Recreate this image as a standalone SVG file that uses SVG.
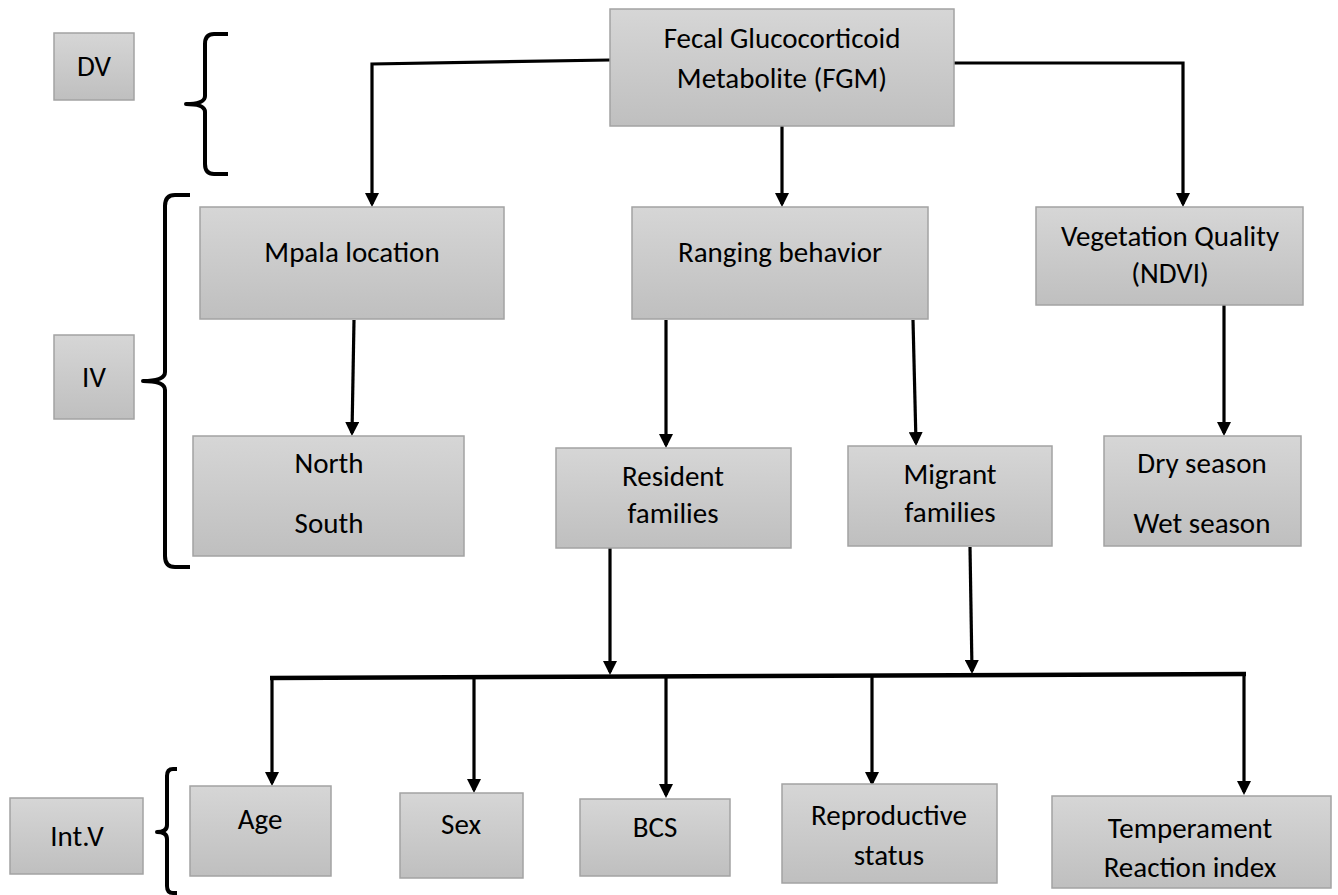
<svg xmlns="http://www.w3.org/2000/svg" width="1338" height="895" viewBox="0 0 1338 895">
<defs>
<linearGradient id="g" x1="0" y1="0" x2="0" y2="1">
<stop offset="0" stop-color="#d6d6d6"/>
<stop offset="1" stop-color="#bfbfbf"/>
</linearGradient>
<marker id="ah" markerUnits="userSpaceOnUse" markerWidth="14" markerHeight="14" refX="11" refY="7" orient="auto">
<path d="M0,0 L14,7 L0,14 z" fill="#000"/>
</marker>
<clipPath id="tclip"><rect x="1052" y="796" width="279" height="83"/></clipPath>
</defs>
<style>
.box{fill:url(#g);stroke:#a3a3a3;stroke-width:1.5}
.t{font-family:Carlito,Lato,"Open Sans",sans-serif;font-size:29px;fill:#000;text-anchor:middle}
.c{fill:none;stroke:#000;stroke-width:3.2}
.a{marker-end:url(#ah)}
.br{fill:none;stroke:#000;stroke-width:4;stroke-linejoin:round;stroke-linecap:butt}
</style>
<rect width="1338" height="895" fill="#fff"/>

<g id="connectors">
<path class="c a" d="M610,60 L372,64 L372,204"/>
<path class="c a" d="M782,126 L782,204"/>
<path class="c a" d="M954,63 L1183,63 L1183,204"/>
<path class="c a" d="M354,320 L352,433"/>
<path class="c a" d="M666,320 L666,445"/>
<path class="c a" d="M913,320 L916,443"/>
<path class="c a" d="M1224,305 L1224,433"/>
<path class="c a" d="M610,548 L610,672"/>
<path class="c a" d="M970,547 L972,671"/>
<path class="c" style="stroke-width:4.5" d="M270,678 L1246,674"/>
<path class="c a" d="M272,678 L272,783"/>
<path class="c a" d="M474,677 L474,790"/>
<path class="c a" d="M666,677 L666,795"/>
<path class="c a" d="M872,676 L872,783"/>
<path class="c a" d="M1244,674 L1244,792"/>
</g>

<g id="brackets">
<path class="br" d="M228,34 L214,34 Q205,34 205,44 L205,96 Q205,104 186,104 Q205,104 205,112 L205,164 Q205,174 214,174 L228,174"/>
<path class="br" d="M190,195 L175,195 Q165,195 165,206 L165,372 Q165,381 143,381 Q165,381 165,390 L165,556 Q165,567 175,567 L190,567"/>
<path class="br" d="M177,769 L173,769 Q167,769 167,776 L167,825 Q167,832 157,832 Q167,832 167,839 L167,886 Q167,893 173,893 L177,893"/>
</g>

<g id="dv"><rect class="box" x="54" y="33" width="80" height="67"/><text class="t" x="94" y="76">DV</text></g>
<g id="iv"><rect class="box" x="54" y="335" width="80" height="84"/><text class="t" x="94" y="387">IV</text></g>
<g id="intv"><rect class="box" x="10" y="798" width="133" height="76"/><text class="t" x="77" y="846">Int.V</text></g>

<g id="fgm"><rect class="box" x="610" y="9" width="344" height="117"/>
<text class="t" x="782" y="48">Fecal Glucocorticoid</text>
<text class="t" x="782" y="88">Metabolite (FGM)</text></g>

<g id="mpala"><rect class="box" x="200" y="207" width="304" height="112"/><text class="t" x="352" y="262">Mpala location</text></g>
<g id="ranging"><rect class="box" x="632" y="207" width="296" height="112"/><text class="t" x="780" y="262">Ranging behavior</text></g>
<g id="veg"><rect class="box" x="1036" y="207" width="267" height="98"/>
<text class="t" x="1170" y="246">Vegetation Quality</text>
<text class="t" x="1170" y="283">(NDVI)</text></g>

<g id="northsouth"><rect class="box" x="193" y="436" width="271" height="120"/>
<text class="t" x="329" y="473">North</text>
<text class="t" x="329" y="533">South</text></g>
<g id="resident"><rect class="box" x="556" y="448" width="235" height="100"/>
<text class="t" x="673" y="486">Resident</text>
<text class="t" x="673" y="523">families</text></g>
<g id="migrant"><rect class="box" x="848" y="446" width="204" height="100"/>
<text class="t" x="950" y="484">Migrant</text>
<text class="t" x="950" y="522">families</text></g>
<g id="season"><rect class="box" x="1104" y="436" width="197" height="110"/>
<text class="t" x="1202" y="473">Dry season</text>
<text class="t" x="1202" y="533">Wet season</text></g>

<g id="age"><rect class="box" x="190" y="786" width="141" height="90"/><text class="t" x="260" y="829">Age</text></g>
<g id="sex"><rect class="box" x="400" y="793" width="123" height="85"/><text class="t" x="461" y="834">Sex</text></g>
<g id="bcs"><rect class="box" x="580" y="799" width="150" height="77"/><text class="t" x="655" y="837">BCS</text></g>
<g id="repro"><rect class="box" x="782" y="784" width="215" height="99"/>
<text class="t" x="889" y="825">Reproductive</text>
<text class="t" x="889" y="865">status</text></g>
<g id="temper"><rect class="box" x="1052" y="796" width="279" height="92"/>
<g clip-path="url(#tclip)">
<text class="t" x="1190" y="838">Temperament</text>
<text class="t" x="1190" y="877">Reaction index</text></g></g>
</svg>
